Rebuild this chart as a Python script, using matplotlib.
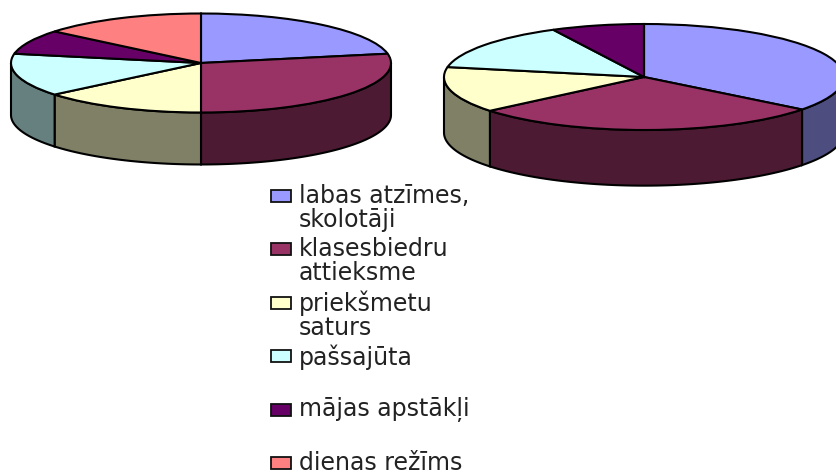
import matplotlib
matplotlib.use('Agg')
import matplotlib.pyplot as plt
import numpy as np
from matplotlib.patches import Rectangle

labels = ['labas atzīmes,\nskolotāji', 'klasesbiedru\nattieksme', 'priekšmetu\nsaturs',
          'pašsajūta', 'mājas apstākļi', 'dienas režīms']
left_values = [22, 28, 14, 14, 8, 14]
right_values = [35.5, 28.5, 14, 14.5, 7.5, 0]
top_colors = ['#9999FF', '#993366', '#FFFFCC', '#CCFFFF', '#660066', '#FF8080']
wall_colors = ['#4D4D80', '#4D1A33', '#808066', '#668080', '#330033', '#804040']

W, H = 836, 470
EDGE = 1.5
THICK = 1.05  # wall height, in units of the pie's vertical radius

fig = plt.figure(figsize=(W / 100, H / 100), dpi=100, facecolor='white')


def draw_pie(values, cx, cy, rx, ry):
    # one axes per pie, squashed so that the circle from pie() turns into an ellipse
    bottom = cy + ry + THICK * ry
    ax = fig.add_axes([(cx - rx) / W, 1 - bottom / H, 2 * rx / W, (bottom - cy + ry) / H])

    # walls, only the front half (clock angles 90 to 270) can be seen
    edges = np.cumsum([0] + values) / sum(values) * 360
    for i in range(len(values)):
        start, end = max(edges[i], 90), min(edges[i + 1], 270)
        if values[i] == 0 or start >= end:
            continue
        t = np.radians(np.linspace(start, end, 60))
        x = np.concatenate([np.sin(t), np.sin(t[::-1])])
        y = np.concatenate([np.cos(t), np.cos(t[::-1]) - THICK])
        ax.fill(x, y, facecolor=wall_colors[i], edgecolor='black', linewidth=EDGE,
                clip_on=False, zorder=1)

    wedges, _ = ax.pie(values, colors=top_colors, startangle=90, counterclock=False,
                       wedgeprops={'edgecolor': 'black', 'linewidth': EDGE})
    for w in wedges:
        w.set_clip_on(False)
        w.set_zorder(2)
    ax.set_aspect('auto')
    ax.set_xlim(-1, 1)
    ax.set_ylim(-1 - THICK, 1)
    ax.axis('off')


draw_pie(left_values, 201, 63, 190, 49.5)
draw_pie(right_values, 644, 77, 200, 53)

# legend is laid out by hand: every entry gets the same row height
lg = fig.add_axes([0, 0, 1, 1])
lg.set_xlim(0, W)
lg.set_ylim(H, 0)
lg.axis('off')
lg.patch.set_alpha(0)
for i, label in enumerate(labels):
    y = 195.5 + i * 53.5
    lg.add_patch(Rectangle((270.5, y - 6), 20, 12, facecolor=top_colors[i], edgecolor='#111111',
                           linewidth=1.3))
    lg.text(299, y - 12, label, fontsize=17, family='DejaVu Sans', color='#222222',
            va='top', ha='left', linespacing=1.02, clip_on=False)

fig.savefig('out.png', dpi=100)
